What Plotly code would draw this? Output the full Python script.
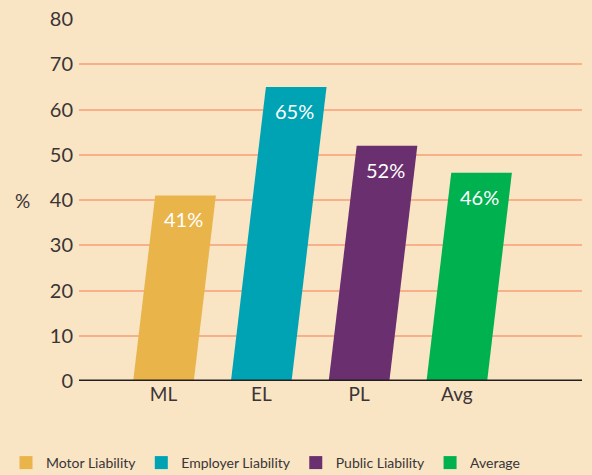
import plotly.graph_objects as go

categories = ["ML", "EL", "PL", "Avg"]
series_names = ["Motor Liability", "Employer Liability", "Public Liability", "Average"]
values = [41, 65, 52, 46]
colors = ["#E9B54A", "#00A3B4", "#6A2F6E", "#00B14F"]
y_ticks = [0, 10, 20, 30, 40, 50, 60, 70, 80]

BG = "#F9E4C4"
FONT = "Lato, 'Open Sans', sans-serif"
TXT = "#3a3536"

hw = 0.31      # half bar width (category units)
skew = 0.0055  # horizontal shift per value unit

fig = go.Figure()
for i, (v, c) in enumerate(zip(values, colors)):
    xs = [i - hw, i + hw, i + hw + skew * v, i - hw + skew * v, i - hw]
    ys = [0, 0, v, v, 0]
    fig.add_trace(go.Scatter(x=xs, y=ys, fill="toself", fillcolor=c, mode="lines",
                             line=dict(width=0, color=c), showlegend=False, hoverinfo="skip"))
    fig.add_annotation(x=i + skew * v - 0.02, y=v, text=f"{v}%", showarrow=False,
                       xanchor="center", yshift=-24, font=dict(family=FONT, size=20, color="white"))

for name, c in zip(series_names, colors):
    fig.add_trace(go.Scatter(x=[None], y=[None], mode="markers", name=name,
                             marker=dict(symbol="square", size=13, color=c)))

fig.add_shape(type="line", xref="paper", yref="y", x0=0, x1=1, y0=0, y1=0,
              line=dict(color="#231F20", width=3))

fig.add_annotation(xref="paper", yref="y", x=-0.113, y=40, text="%", showarrow=False,
                   xanchor="center", yanchor="middle",
                   font=dict(family=FONT, size=19, color=TXT))

fig.update_layout(
    width=592, height=475,
    paper_bgcolor=BG, plot_bgcolor=BG,
    margin=dict(l=79, r=10, t=19, b=94, autoexpand=False),
    font=dict(family=FONT, color=TXT),
    xaxis=dict(range=[-0.864, 4.28], tickvals=list(range(len(categories))), ticktext=categories,
               showgrid=False, zeroline=False, showline=False, ticks="", automargin=False,
               tickfont=dict(size=19, color=TXT)),
    yaxis=dict(range=[0, 80], tickvals=y_ticks, showgrid=True, gridcolor="#F7B08A", gridwidth=1.5,
               zeroline=False, showline=False, ticks="", ticklabelstandoff=5, automargin=False,
               tickfont=dict(size=20, color=TXT)),
    legend=dict(orientation="h", xref="paper", yref="paper", x=-0.1451, y=-0.2265,
                xanchor="left", yanchor="middle", font=dict(size=14, color=TXT),
                bgcolor="rgba(0,0,0,0)", itemclick=False),
    showlegend=True,
)

fig.write_html("out.html", config={"displayModeBar": False},
               post_script="document.body.style.margin='0';document.body.style.background='#F9E4C4';")
